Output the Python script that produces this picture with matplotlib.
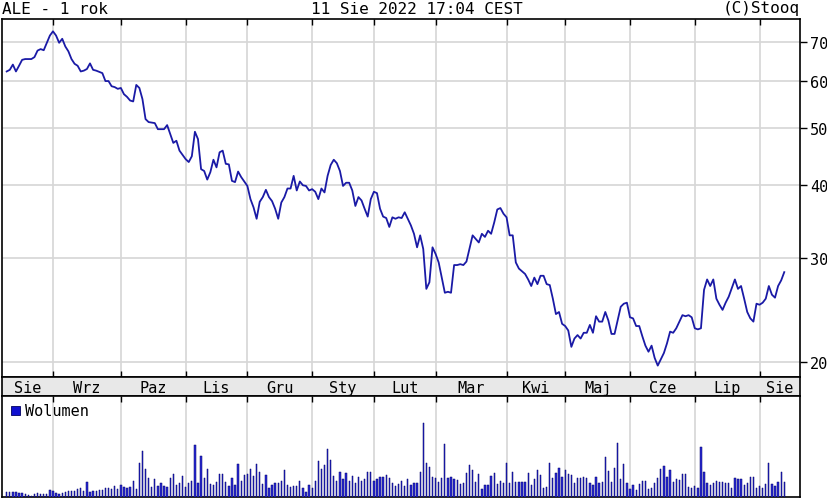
import matplotlib
matplotlib.use("Agg")
import matplotlib.pyplot as plt
from matplotlib.patches import Rectangle
from matplotlib.ticker import FixedLocator, NullLocator

# ALE - notowania z ostatniego roku (indeks sesji, kurs zamkniecia)
days = [
    0, 1, 2, 3, 4, 5, 6, 8, 9, 10, 11, 12, 13, 14, 15, 16, 17, 18, 19, 20,
    21, 22, 23, 24, 25, 26, 27, 28, 29, 31, 32, 33, 34, 35, 36, 37, 38, 39, 40, 41,
    42, 43, 44, 45, 46, 48, 49, 51, 52, 53, 54, 55, 56, 58, 59, 60, 61, 62, 63, 64,
    65, 66, 67, 68, 69, 70, 71, 72, 73, 74, 75, 76, 78, 79, 80, 81, 82, 83, 84, 85,
    86, 87, 88, 89, 90, 91, 92, 93, 94, 95, 96, 97, 98, 99, 100, 101, 102, 103, 104, 105,
    106, 107, 108, 109, 110, 111, 112, 113, 114, 115, 116, 117, 118, 119, 120, 121, 122, 123, 124, 125,
    126, 127, 128, 129, 130, 131, 132, 133, 134, 135, 136, 137, 138, 139, 140, 141, 142, 143, 144, 145,
    146, 147, 148, 149, 151, 153, 154, 155, 156, 157, 158, 159, 160, 161, 162, 163, 164, 165, 166, 168,
    169, 170, 171, 172, 173, 174, 175, 176, 177, 178, 179, 180, 181, 182, 183, 184, 185, 186, 187, 188,
    189, 190, 191, 192, 193, 194, 195, 196, 197, 198, 199, 200, 201, 202, 203, 204, 205, 206, 207, 208,
    209, 210, 211, 212, 213, 214, 215, 216, 217, 219, 220, 221, 222, 223, 224, 225, 226, 227, 228, 229,
    230, 231, 232, 233, 234, 236, 237, 238, 239, 240, 241, 242, 243, 244, 245, 246, 247, 248, 249, 250,
    251, 252,
]
prices = [
    62.3, 62.7, 64.0, 62.3, 63.7, 65.2, 65.4, 65.4, 65.9, 67.6, 68.0, 67.7, 69.7, 71.7, 72.9, 71.7, 69.7, 70.8, 68.7, 67.4,
    65.4, 64.2, 63.7, 62.3, 62.5, 62.9, 64.3, 62.7, 62.5, 61.9, 60.0, 60.0, 58.8, 58.6, 58.2, 58.4, 57.0, 56.4, 55.6, 55.4,
    59.1, 58.4, 55.9, 51.7, 51.1, 50.9, 49.7, 49.7, 50.5, 48.8, 47.1, 47.5, 45.7, 44.2, 43.7, 44.7, 49.2, 47.8, 42.5, 42.2,
    40.8, 42.0, 44.1, 42.8, 45.4, 45.7, 43.4, 43.3, 40.6, 40.4, 42.1, 41.2, 39.8, 37.8, 36.6, 35.0, 37.4, 38.1, 39.2, 38.1,
    37.5, 36.4, 35.0, 37.3, 38.1, 39.4, 39.4, 41.4, 39.1, 40.5, 39.9, 39.8, 39.1, 39.3, 38.9, 37.8, 39.4, 38.8, 41.4, 43.2,
    44.1, 43.5, 42.2, 39.8, 40.3, 40.3, 39.1, 36.8, 38.1, 37.6, 36.4, 35.3, 37.8, 38.9, 38.7, 36.4, 35.3, 35.1, 33.9, 35.2,
    35.0, 35.2, 35.1, 35.9, 35.0, 34.1, 33.0, 31.3, 32.8, 31.1, 26.6, 27.3, 31.3, 30.5, 29.5, 27.8, 26.2, 26.3, 26.2, 29.2,
    29.2, 29.3, 29.2, 29.6, 32.8, 31.9, 33.0, 32.6, 33.4, 33.0, 34.5, 36.3, 36.5, 35.7, 35.2, 32.8, 32.8, 29.5, 28.8, 28.2,
    27.6, 26.9, 27.8, 27.1, 28.0, 28.0, 27.1, 27.0, 25.6, 24.1, 24.3, 23.2, 23.0, 22.6, 21.2, 21.9, 22.2, 21.9, 22.4, 22.4,
    23.1, 22.4, 23.9, 23.4, 23.4, 24.3, 23.5, 22.3, 22.3, 23.5, 24.8, 25.1, 25.2, 23.8, 23.7, 23.0, 23.0, 22.1, 21.3, 20.8,
    21.3, 20.3, 19.7, 20.2, 20.7, 21.5, 22.5, 22.4, 22.8, 24.0, 23.9, 24.0, 23.8, 22.8, 22.7, 22.8, 26.5, 27.6, 26.9, 27.6,
    25.6, 25.0, 24.5, 25.2, 25.8, 27.6, 26.6, 26.9, 25.6, 24.3, 23.7, 23.4, 25.1, 25.0, 25.2, 25.6, 26.9, 26.0, 25.7, 26.9,
    27.5, 28.4,
]

# wolumen, jedna wartosc na sesje (0..252), jednostki umowne
volume = [
    5, 5.3, 5, 5.3, 3.7, 4.3, 2.7, 2, 1, 2.7, 3.7, 3, 2.7, 3, 7, 5.7, 4.3, 3, 4.3, 5,
    5.7, 5.7, 5.7, 7.7, 9, 6, 15, 5, 5.7, 5.7, 7, 7, 9, 9, 7.7, 11, 8.3, 11.7, 10.3, 9.3,
    10.3, 16, 8.3, 34.3, 46, 28.3, 19.3, 10.3, 17.7, 11, 13.7, 11, 10.3, 19.3, 22.7, 11.7, 13.7, 21, 10.3, 13.7,
    16, 51.7, 14.3, 41, 19.3, 27.7, 12.7, 11.7, 15, 22.7, 22.7, 15, 11, 19.3, 11.7, 32.7, 16, 21.7, 22.7, 28.3,
    21, 32.7, 25, 12.7, 22, 9.3, 11.7, 13.7, 14.3, 16, 26.7, 11.7, 10.3, 11, 11, 16, 9.3, 5, 11.7, 9.3,
    16, 36, 27.7, 31.7, 47.7, 37, 21, 16, 25, 17.7, 23.7, 16, 21, 13.7, 20.3, 16, 18.3, 25, 25, 16,
    17.7, 20.3, 20.3, 21.7, 19.3, 14.3, 11, 12.7, 16, 11, 17.7, 11.7, 13.7, 14.3,
    25, 73.7, 34.3, 30.3, 20.3, 19.3, 15, 19.3, 52.7, 19.3, 20.3, 17.7, 17, 12.7, 13.7, 23.7, 31.7, 27, 15, 22.7,
    8.3, 11.7, 11.7, 21, 23.7, 12.7, 16, 13.7, 33.7, 13.7, 25, 15, 15, 15, 15, 23.7, 11.7, 18.3, 27, 21.7,
    9.3, 10.3, 34.3, 19.3, 23.7, 29.3, 20.3, 27, 22.7, 21.7, 13.7, 19.3, 19.3, 20.3, 19.3, 13.7, 11.7, 20.3, 14.3, 15,
    40.3, 26, 15, 29.3, 53.7, 17.7, 32.7, 13.7, 7.7, 11.7, 7, 12.7, 16, 16, 7.7, 9.3, 13.7, 19.3, 28.3, 31,
    20.3, 27, 15, 18.3, 17, 22.7, 22.7, 10.3, 9.3, 11, 9.3, 50.3, 25, 14.3, 11.7, 13.7, 16, 15, 15, 13.7,
    13.7, 9.3, 19.3, 18.3, 17.7, 11.7, 14.3, 20.3, 20.3, 9.3, 11, 9.3, 12.7, 34.3, 12.7, 11, 15, 25, 15,
]

# pierwsza sesja kazdego miesiaca
month_starts = [15, 37, 58, 78, 99, 119, 139, 162, 181, 202, 223, 244]
month_labels = ["Sie", "Wrz", "Paz", "Lis", "Gru", "Sty", "Lut", "Mar",
                "Kwi", "Maj", "Cze", "Lip", "Sie"]
price_ticks = [20, 30, 40, 50, 60, 70]

plt.rcParams["font.family"] = ["DejaVu Sans Mono"]
plt.rcParams["font.size"] = 11

W, H = 828, 502
fig = plt.figure(figsize=(W / 100, H / 100), dpi=100)

x_min, x_max = -1.52, 257.1
grid_col = "#d6d6d6"
line_col = "#1a1aa6"


def px_axes(left, top, right, bottom):
    return fig.add_axes([left / W, 1 - bottom / H, (right - left) / W, (bottom - top) / H])


ax = px_axes(2, 20, 800, 378)
strip = px_axes(2, 378, 800, 397)
ax_vol = px_axes(2, 397, 800, 498)

for a in (ax, strip, ax_vol):
    a.set_xlim(x_min, x_max)
    for s in a.spines.values():
        s.set_linewidth(1.2)
        s.set_color("black")

# wykres kursu
ax.plot(days, prices, color=line_col, linewidth=1.3, zorder=3)
ax.set_yscale("log")
ax.set_ylim(18.84, 76.5)
ax.yaxis.set_major_locator(FixedLocator(price_ticks))
ax.yaxis.set_minor_locator(NullLocator())
ax.set_yticklabels([str(t) for t in price_ticks])
ax.yaxis.tick_right()
ax.tick_params(axis="y", direction="out", length=5, width=1, pad=2, labelsize=11)
ax.set_xticks(month_starts)
ax.set_xticklabels([])
ax.tick_params(axis="x", direction="in", top=True, bottom=True, length=4, width=1)
ax.grid(True, color=grid_col, linewidth=1.2, zorder=0)

# pasek z nazwami miesiecy
strip.set_facecolor("#e8e8e8")
strip.set_ylim(0, 1)
strip.set_xticks([])
strip.set_yticks([])
bounds = [x_min] + month_starts + [x_max]
for i, lab in enumerate(month_labels):
    strip.text((bounds[i] + bounds[i + 1]) / 2, 0.45, lab,
               ha="center", va="center", fontsize=11)

# wolumen
ax_vol.bar(range(len(volume)), volume, width=0.42, color="#2b2bd6",
           edgecolor="#00006a", linewidth=0.35, zorder=3)
ax_vol.set_ylim(0, 101)
ax_vol.set_yticks([])
ax_vol.set_xticks(month_starts)
ax_vol.set_xticklabels([])
ax_vol.tick_params(axis="x", direction="in", top=True, bottom=False, length=4, width=1)
ax_vol.grid(True, axis="x", color=grid_col, linewidth=1.2, zorder=0)
ax_vol.add_patch(Rectangle((0.011, 0.81), 0.011, 0.09, transform=ax_vol.transAxes,
                           facecolor="#1010d0", edgecolor="#000060", linewidth=0.6))
ax_vol.text(0.029, 0.857, "Wolumen", transform=ax_vol.transAxes,
            ha="left", va="center", fontsize=11)

# naglowek
fig.text(2 / W, 1 - 9 / H, "ALE - 1 rok", ha="left", va="center", fontsize=11.5)
fig.text(417 / W, 1 - 9 / H, "11 Sie 2022 17:04 CEST", ha="center", va="center", fontsize=11.5)
fig.text(800 / W, 1 - 9 / H, "(C)Stooq", ha="right", va="center", fontsize=11.5)

fig.savefig("out.png", dpi=100)
